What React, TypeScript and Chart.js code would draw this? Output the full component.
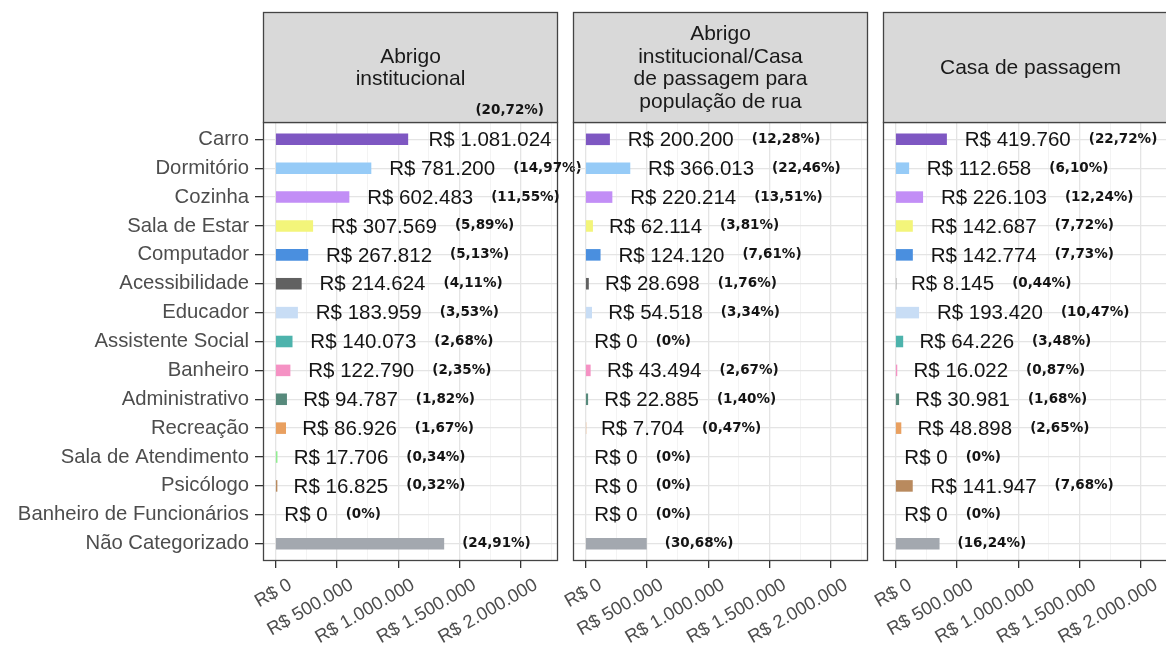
import React, { useEffect, useRef } from "react";
import { Chart, registerables } from "chart.js";

Chart.register(...registerables);

// ---------------- data ----------------
const categories = [
  "Carro",
  "Dormitório",
  "Cozinha",
  "Sala de Estar",
  "Computador",
  "Acessibilidade",
  "Educador",
  "Assistente Social",
  "Banheiro",
  "Administrativo",
  "Recreação",
  "Sala de Atendimento",
  "Psicólogo",
  "Banheiro de Funcionários",
  "Não Categorizado",
];

const categoryColors = [
  "#7E57C2",
  "#96CBF7",
  "#C28EF6",
  "#F3F57A",
  "#4A8FDF",
  "#616161",
  "#C8DDF5",
  "#4DB3AC",
  "#F592C4",
  "#578A7C",
  "#E9A060",
  "#90EE90",
  "#B98A5E",
  "#FFB74D",
  "#A3A8AF",
];

const facetTitles = [
  "Abrigo\ninstitucional",
  "Abrigo\ninstitucional/Casa\nde passagem para\npopulação de rua",
  "Casa de passagem",
];

const valuesAbrigo = [1081024, 781200, 602483, 307569, 267812, 214624, 183959, 140073, 122790, 94787, 86926, 17706, 16825, 0, 1374000];
const valuesRua = [200200, 366013, 220214, 62114, 124120, 28698, 54518, 0, 43494, 22885, 7704, 0, 0, 0, 500000];
const valuesPassagem = [419760, 112658, 226103, 142687, 142774, 8145, 193420, 64226, 16022, 30981, 48898, 0, 141947, 0, 360000];

const pctAbrigo = [20.72, 14.97, 11.55, 5.89, 5.13, 4.11, 3.53, 2.68, 2.35, 1.82, 1.67, 0.34, 0.32, 0, 24.91];
const pctRua = [12.28, 22.46, 13.51, 3.81, 7.61, 1.76, 3.34, 0, 2.67, 1.4, 0.47, 0, 0, 0, 30.68];
const pctPassagem = [22.72, 6.1, 12.24, 7.72, 7.73, 0.44, 10.47, 3.48, 0.87, 1.68, 2.65, 0, 7.68, 0, 16.24];

const xTickValues = [0, 500000, 1000000, 1500000, 2000000];
const xTickLabels = ["R$ 0", "R$ 500.000", "R$ 1.000.000", "R$ 1.500.000", "R$ 2.000.000"];
const xMinorValues = [250000, 750000, 1250000, 1750000, 2250000];
const xMin = -100000;
const xMax = 2300000;

const noValueLabelCategory = "Não Categorizado";

// ---------------- layout / style ----------------
const PAGE_W = 1166;
const PAGE_H = 650;
const STRIP_TOP = 12;
const PANEL_TOP = 122;
const PANEL_BOTTOM = 561;
const PANEL_W = 295;
const PANEL_LEFTS = [263, 573, 883];
const PAD_L = 50;
const PAD_R = 52;

const SANS = '"Liberation Sans", Arial, Helvetica, sans-serif';
const VALUE_FONT = `20.5px ${SANS}`;
const PCT_FONT = 'bold 13.5px "DejaVu Sans", sans-serif';
const STRIP_FONT = `21px ${SANS}`;
const BORDER = "#444444";
const GRID_MAJOR = "#E4E4E4";
const GRID_MINOR = "#F0F0F0";

const fmtBRL = (v: number) =>
  "R$ " + Math.round(v).toString().replace(/\B(?=(\d{3})+(?!\d))/g, ".");
const fmtPct = (p: number) => (p === 0 ? "(0%)" : `(${p.toFixed(2).replace(".", ",")}%)`);

const facets = [
  { title: facetTitles[0], values: valuesAbrigo, pct: pctAbrigo },
  { title: facetTitles[1], values: valuesRua, pct: pctRua },
  { title: facetTitles[2], values: valuesPassagem, pct: pctPassagem },
];

function makeDecoPlugin(facetIndex: number) {
  const facet = facets[facetIndex];
  return {
    id: "facetDeco" + facetIndex,
    afterDraw(chart: any) {
      const { ctx, chartArea: a } = chart;
      const xs = chart.scales.x;
      const ys = chart.scales.y;
      ctx.save();
      // panel border
      ctx.strokeStyle = BORDER;
      ctx.lineWidth = 1.3;
      ctx.strokeRect(a.left + 0.5, a.top + 0.5, a.right - a.left - 1, a.bottom - a.top - 1);
      // strip
      ctx.fillStyle = "#D9D9D9";
      ctx.fillRect(a.left, STRIP_TOP, a.right - a.left, a.top - STRIP_TOP);
      ctx.strokeRect(a.left + 0.5, STRIP_TOP + 0.5, a.right - a.left - 1, a.top - STRIP_TOP);
      ctx.fillStyle = "#1A1A1A";
      ctx.font = STRIP_FONT;
      ctx.textAlign = "center";
      ctx.textBaseline = "middle";
      const lines = facet.title.split("\n");
      const lh = 22.5;
      const cy = (STRIP_TOP + a.top) / 2 + 1;
      lines.forEach((ln, i) => {
        ctx.fillText(ln, (a.left + a.right) / 2, cy + (i - (lines.length - 1) / 2) * lh);
      });
      // value / percent labels
      ctx.textBaseline = "middle";
      ctx.textAlign = "left";
      facet.values.forEach((v, i) => {
        const y = ys.getPixelForValue(i);
        const xEnd = xs.getPixelForValue(v);
        let pctLeft: number;
        if (categories[i] !== noValueLabelCategory) {
          const txt = fmtBRL(v);
          ctx.font = VALUE_FONT;
          const w = ctx.measureText(txt).width;
          const left = xEnd + 3 + 0.14 * w;
          ctx.fillStyle = "#141414";
          ctx.fillText(txt, left, y + 1);
          pctLeft = left + w + 18;
        } else {
          pctLeft = xEnd + 18;
        }
        const pt = fmtPct(facet.pct[i]);
        ctx.font = PCT_FONT;
        const pw = ctx.measureText(pt).width;
        let px = pctLeft;
        let py = y;
        if (px + pw > a.right + 30) {
          px = a.right - 14 - pw;
          py = ys.getPixelForValue(i - 1);
        }
        ctx.fillStyle = "#141414";
        ctx.fillText(pt, px, py);
      });
      ctx.restore();
    },
  };
}

function FacetChart({ index }: { index: number }) {
  const ref = useRef<HTMLCanvasElement | null>(null);
  const isFirst = index === 0;
  const canvasLeft = isFirst ? 0 : PANEL_LEFTS[index] - PAD_L;
  const canvasW = PANEL_LEFTS[index] + PANEL_W + PAD_R - canvasLeft;

  useEffect(() => {
    if (!ref.current) return;
    const facet = facets[index];
    const isMajor = (v: number) => xTickValues.includes(v);
    const chart = new Chart(ref.current, {
      type: "bar",
      data: {
        datasets: [
          {
            data: facet.values.map((v, i) => ({ x: v, y: i })),
            backgroundColor: categoryColors,
            borderWidth: 0,
            barPercentage: 0.4,
            categoryPercentage: 1,
          },
        ],
      },
      options: {
        indexAxis: "y",
        responsive: false,
        animation: false,
        devicePixelRatio: 1,
        layout: {
          padding: { left: isFirst ? 0 : PAD_L, right: PAD_R, top: PANEL_TOP, bottom: 0 },
        },
        plugins: { legend: { display: false }, tooltip: { enabled: false } },
        scales: {
          x: {
            type: "linear",
            position: "bottom",
            min: xMin,
            max: xMax,
            bounds: "data",
            offset: false,
            afterBuildTicks: (scale: any) => {
              scale.ticks = [...xTickValues, ...xMinorValues]
                .sort((a, b) => a - b)
                .map((value) => ({ value }));
            },
            afterFit: (scale: any) => {
              scale.height = PAGE_H - PANEL_BOTTOM;
            },
            border: { display: false },
            grid: {
              offset: false,
              color: (c: any) => (c.tick && isMajor(c.tick.value) ? GRID_MAJOR : GRID_MINOR),
              lineWidth: (c: any) => (c.tick && isMajor(c.tick.value) ? 1.3 : 0.8),
              tickColor: (c: any) => (c.tick && isMajor(c.tick.value) ? "#333333" : "rgba(0,0,0,0)"),
              tickWidth: 1.3,
              tickLength: 7,
            },
            ticks: {
              autoSkip: false,
              minRotation: 30,
              maxRotation: 30,
              padding: 6,
              labelOffset: 15,
              color: "#4D4D4D",
              font: { family: SANS, size: 18.5 },
              callback: (value: any) => {
                const k = xTickValues.indexOf(Number(value));
                return k >= 0 ? xTickLabels[k] : "";
              },
            },
          },
          y: {
            type: "linear",
            reverse: true,
            offset: false,
            min: -0.6,
            max: categories.length - 1 + 0.6,
            bounds: "data",
            afterBuildTicks: (scale: any) => {
              scale.ticks = categories.map((_, i) => ({ value: i }));
            },
            afterFit: (scale: any) => {
              scale.width = isFirst ? PANEL_LEFTS[0] : 0;
            },
            border: { display: false },
            grid: {
              offset: false,
              color: GRID_MAJOR,
              lineWidth: 1.3,
              drawTicks: isFirst,
              tickLength: 8,
              tickColor: "#333333",
              tickWidth: 1.3,
            },
            ticks: {
              display: isFirst,
              padding: 6,
              color: "#4D4D4D",
              font: { family: SANS, size: 20.3 },
              callback: (value: any) => categories[Number(value)] ?? "",
            },
          },
        },
      },
      plugins: [makeDecoPlugin(index)],
    } as any);
    return () => chart.destroy();
  }, [index]);

  return (
    <canvas
      ref={ref}
      width={canvasW}
      height={PAGE_H}
      style={{ position: "absolute", left: canvasLeft, top: 0, width: canvasW, height: PAGE_H }}
    />
  );
}

export default function App() {
  useEffect(() => {
    document.body.style.margin = "0";
    document.body.style.background = "#FFFFFF";
  }, []);
  return (
    <div
      style={{
        position: "relative",
        width: PAGE_W,
        height: PAGE_H,
        overflow: "hidden",
        background: "#FFFFFF",
      }}
    >
      <FacetChart index={0} />
      <FacetChart index={1} />
      <FacetChart index={2} />
    </div>
  );
}
